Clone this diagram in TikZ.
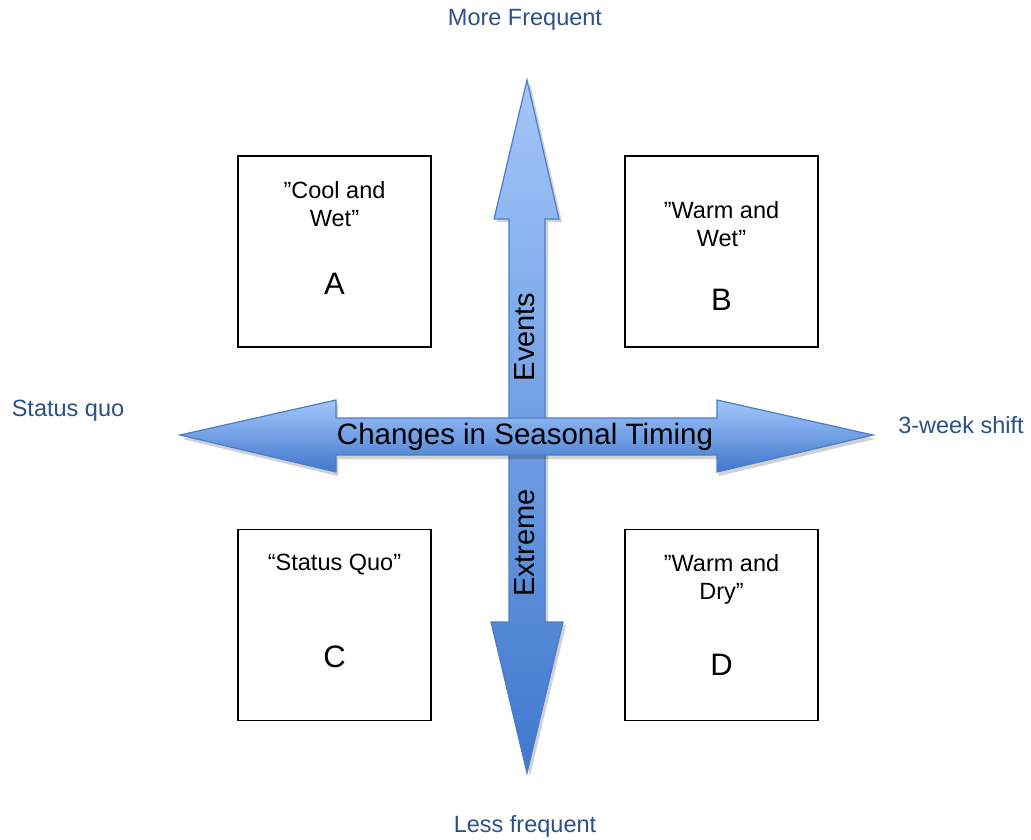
\documentclass[tikz,border=0pt]{standalone}
\usepackage{fontspec}
\setmainfont{Liberation Sans}
\definecolor{lblue}{HTML}{2A5088}
\definecolor{arrtop}{HTML}{A3C6FA}
\definecolor{arrbot}{HTML}{3F78CC}
\definecolor{arredge}{HTML}{4A7EC8}
\begin{document}
\begin{tikzpicture}[x=1pt,y=-1pt,
  quad/.style={draw=black,line width=1.3pt,minimum width=193pt,minimum height=191pt,inner sep=0pt},
  qtext/.style={font=\fontsize{23.5}{28}\selectfont,align=center},
  qletter/.style={font=\fontsize{31}{34}\selectfont},
  axlabel/.style={text=lblue,font=\fontsize{23.5}{27}\selectfont},
  arrowshape/.style={draw=arredge,line width=1.2pt,line join=miter},
  shade/.style={fill=black,opacity=0.18}]
\useasboundingbox (0,0) rectangle (1031,839);
% boxes
\node[quad] (A) at (334.5,251.5) {};
\node[quad] (B) at (721.5,251.5) {};
\node[quad] (C) at (334.5,625) {};
\node[quad] (D) at (721.5,625) {};
\node[qtext] (At) at (334.5,204) {”Cool and\\Wet”};
\node[qletter] (Al) at (334.5,284) {A};
\node[qtext] (Bt) at (721.5,224) {”Warm and\\Wet”};
\node[qletter] (Bl) at (721.5,300) {B};
\node[qtext] (Ct) at (334.5,565) {“Status Quo”};
\node[qletter] (Cl) at (334.5,657) {C};
\node[qtext] (Dt) at (721.5,579) {”Warm and\\Dry”};
\node[qletter] (Dl) at (721.5,665) {D};
% vertical arrow
\fill[shade,xshift=3pt,yshift=-3pt] (527,80) -- (559,219) -- (545,219) -- (545,622) -- (563,622) -- (527,773) -- (491,622) -- (509,622) -- (509,219) -- (494,219) -- cycle;
\path[arrowshape,top color=arrtop,bottom color=arrbot] (527,80) -- (559,219) -- (545,219) -- (545,622) -- (563,622) -- (527,773) -- (491,622) -- (509,622) -- (509,219) -- (494,219) -- cycle;
% horizontal arrow
\fill[shade,xshift=2pt,yshift=-4pt] (180,435) -- (336,400) -- (336,418) -- (717,418) -- (717,400) -- (873,435) -- (717,472) -- (717,455) -- (336,455) -- (336,472) -- cycle;
\path[arrowshape,top color=arrtop,bottom color=arrbot] (180,435) -- (336,400) -- (336,418) -- (717,418) -- (717,400) -- (873,435) -- (717,472) -- (717,455) -- (336,455) -- (336,472) -- cycle;
\node[font=\fontsize{29.5}{33}\selectfont] (H) at (525,437) {Changes in Seasonal Timing};
\node[font=\fontsize{29}{33}\selectfont,rotate=90] (Ev) at (525,337) {Events};
\node[font=\fontsize{29}{33}\selectfont,rotate=90] (Ex) at (525,543) {Extreme};
% axis labels
\node[axlabel] (top) at (525,20) {More Frequent};
\node[axlabel] (bot) at (525,826) {Less frequent};
\node[axlabel] (left) at (68,411) {Status quo};
\node[axlabel] (right) at (961,425) {3-week shift};
\end{tikzpicture}
\end{document}
